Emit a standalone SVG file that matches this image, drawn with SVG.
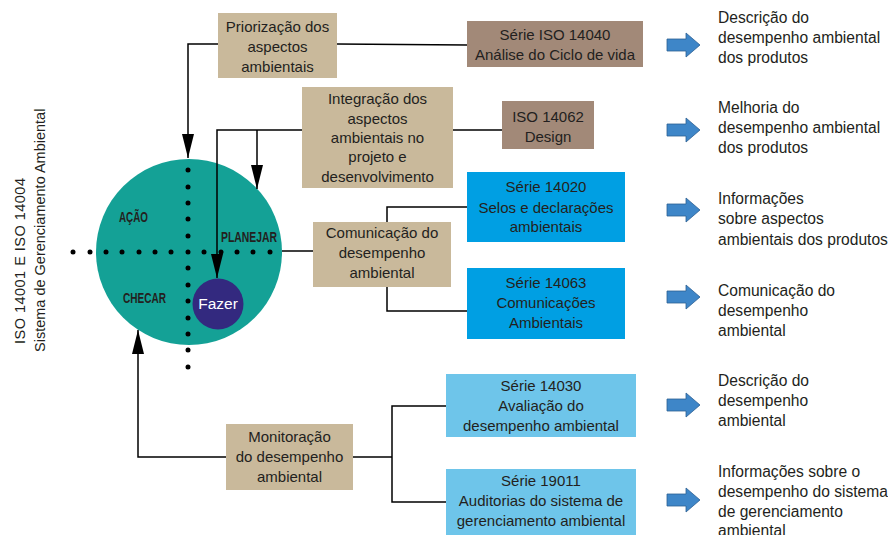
<svg xmlns="http://www.w3.org/2000/svg" width="888" height="535" viewBox="0 0 888 535">
<style>
text{font-family:"Liberation Sans",Arial,sans-serif;fill:#231F20}
.t{font-size:15px;text-anchor:middle}
.r{font-size:15.6px}
.v{font-size:14.5px}
.b{font-size:14px;font-weight:bold}
.tan{fill:#C9B99B}
.brn{fill:#A28978}
.blu{fill:#009FE3}
.lbl{fill:#6EC5EA}
.ln{fill:none;stroke:#000;stroke-width:1.5}
.dot{fill:#000}
.ba{fill:#3E86C8;stroke:#2C5F93;stroke-width:0.8}
</style>
<defs>
<marker id="ah" viewBox="0 0 24 12" refX="24" refY="6" markerWidth="24" markerHeight="12" markerUnits="userSpaceOnUse" orient="auto">
<path d="M0,0 L24,6 L0,12 z" fill="#000"/>
</marker>
<path id="barrow" d="M0,-6 H19 V-12 L33,0 L19,12 V6 H0 z"/>
</defs>
<rect width="888" height="535" fill="#fff"/>

<g id="side-title">
<text class="v" transform="translate(25,344) rotate(-90)" textLength="166" lengthAdjust="spacing">ISO 14001 E ISO 14004</text>
<text class="v" transform="translate(45,352) rotate(-90)">Sistema de Gerenciamento Ambiental</text>
</g>

<g id="pdca">
<circle cx="189" cy="252" r="93" fill="#14A196"/>
<g class="dot">
<circle cx="73" cy="252" r="2.5"/><circle cx="90" cy="252" r="2.5"/><circle cx="106" cy="252" r="2.5"/><circle cx="122" cy="252" r="2.5"/><circle cx="139" cy="252" r="2.5"/><circle cx="155" cy="252" r="2.5"/><circle cx="171" cy="252" r="2.5"/><circle cx="204" cy="252" r="2.5"/><circle cx="221" cy="252" r="2.5"/><circle cx="237" cy="252" r="2.5"/><circle cx="253" cy="252" r="2.5"/><circle cx="270" cy="252" r="2.5"/>
<circle cx="188" cy="170" r="2.5"/><circle cx="188" cy="187" r="2.5"/><circle cx="188" cy="203" r="2.5"/><circle cx="188" cy="219" r="2.5"/><circle cx="188" cy="236" r="2.5"/><circle cx="188" cy="252" r="2.5"/><circle cx="188" cy="268" r="2.5"/><circle cx="188" cy="285" r="2.5"/><circle cx="188" cy="301" r="2.5"/><circle cx="188" cy="318" r="2.5"/><circle cx="188" cy="334" r="2.5"/><circle cx="188" cy="350" r="2.5"/><circle cx="188" cy="367" r="2.5"/>
</g>
<text class="b" x="119" y="222" textLength="29" lengthAdjust="spacingAndGlyphs">AÇÃO</text>
<text class="b" x="221" y="242" textLength="56" lengthAdjust="spacingAndGlyphs">PLANEJAR</text>
<text class="b" x="123" y="303" textLength="43" lengthAdjust="spacingAndGlyphs">CHECAR</text>
</g>

<g id="fazer">
<circle cx="218" cy="304" r="25.5" fill="#33297F"/>
<text class="t" x="218" y="309" style="fill:#fff;font-size:15.5px">Fazer</text>
</g>

<g id="connectors">
<path class="ln" d="M219,44 H188 V158" marker-end="url(#ah)"/>
<path class="ln" d="M337,44 L467,45"/>
<path class="ln" d="M303,130 H217 V278" marker-end="url(#ah)"/>
<path class="ln" d="M257,130 V189" marker-end="url(#ah)"/>
<path class="ln" d="M453,130 H502"/>
<path class="ln" d="M282,251 H313"/>
<path class="ln" d="M387,222 V207 H467"/>
<path class="ln" d="M387,287 V311 H467"/>
<path class="ln" d="M226,457 H138 V330" marker-end="url(#ah)"/>
<path class="ln" d="M353,457 H392"/>
<path class="ln" d="M446,406 H392 V502 H446"/>
</g>

<g id="priorizacao">
<rect class="tan" x="218" y="13" width="119" height="65"/>
<text class="t" x="277.5" y="32">Priorização dos</text>
<text class="t" x="277.5" y="52">aspectos</text>
<text class="t" x="277.5" y="72">ambientais</text>
</g>

<g id="serie-14040">
<rect class="brn" x="467" y="21" width="176" height="46"/>
<text class="t" x="555" y="40">Série ISO 14040</text>
<text class="t" x="555" y="60">Análise do Ciclo de vida</text>
</g>

<g id="integracao">
<rect class="tan" x="302" y="87" width="151" height="101"/>
<text class="t" x="377.5" y="104">Integração dos</text>
<text class="t" x="377.5" y="124">aspectos</text>
<text class="t" x="377.5" y="143">ambientais no</text>
<text class="t" x="377.5" y="162">projeto e</text>
<text class="t" x="377.5" y="182">desenvolvimento</text>
</g>

<g id="iso-14062">
<rect class="brn" x="502" y="101" width="92" height="48"/>
<text class="t" x="548" y="122">ISO 14062</text>
<text class="t" x="548" y="142">Design</text>
</g>

<g id="serie-14020">
<rect class="blu" x="467" y="172" width="158" height="70"/>
<text class="t" x="546" y="192">Série 14020</text>
<text class="t" x="546" y="213">Selos e declarações</text>
<text class="t" x="546" y="232">ambientais</text>
</g>

<g id="comunicacao">
<rect class="tan" x="313" y="222" width="138" height="65"/>
<text class="t" x="382" y="238">Comunicação do</text>
<text class="t" x="382" y="258">desempenho</text>
<text class="t" x="382" y="278">ambiental</text>
</g>

<g id="serie-14063">
<rect class="blu" x="467" y="268" width="158" height="71"/>
<text class="t" x="546" y="288">Série 14063</text>
<text class="t" x="546" y="308">Comunicações</text>
<text class="t" x="546" y="328">Ambientais</text>
</g>

<g id="monitoracao">
<rect class="tan" x="226" y="424" width="127" height="66"/>
<text class="t" x="289.5" y="442">Monitoração</text>
<text class="t" x="289.5" y="462">do desempenho</text>
<text class="t" x="289.5" y="482">ambiental</text>
</g>

<g id="serie-14030">
<rect class="lbl" x="446" y="374" width="190" height="63"/>
<text class="t" x="541" y="391">Série 14030</text>
<text class="t" x="541" y="411">Avaliação do</text>
<text class="t" x="541" y="431">desempenho ambiental</text>
</g>

<g id="serie-19011">
<rect class="lbl" x="446" y="469" width="190" height="70"/>
<text class="t" x="541" y="486">Série 19011</text>
<text class="t" x="541" y="506">Auditorias do sistema de</text>
<text class="t" x="541" y="526">gerenciamento ambiental</text>
</g>

<g id="out-1">
<use href="#barrow" class="ba" x="667" y="45"/>
<text class="r" x="718" y="23">Descrição do</text>
<text class="r" x="718" y="43">desempenho ambiental</text>
<text class="r" x="718" y="63">dos produtos</text>
</g>
<g id="out-2">
<use href="#barrow" class="ba" x="667" y="130"/>
<text class="r" x="718" y="113">Melhoria do</text>
<text class="r" x="718" y="133">desempenho ambiental</text>
<text class="r" x="718" y="153">dos produtos</text>
</g>
<g id="out-3">
<use href="#barrow" class="ba" x="667" y="210"/>
<text class="r" x="718" y="204">Informações</text>
<text class="r" x="718" y="224">sobre aspectos</text>
<text class="r" x="718" y="245">ambientais dos produtos</text>
</g>
<g id="out-4">
<use href="#barrow" class="ba" x="667" y="297"/>
<text class="r" x="718" y="296">Comunicação do</text>
<text class="r" x="718" y="316">desempenho</text>
<text class="r" x="718" y="336">ambiental</text>
</g>
<g id="out-5">
<use href="#barrow" class="ba" x="667" y="405"/>
<text class="r" x="718" y="386">Descrição do</text>
<text class="r" x="718" y="406">desempenho</text>
<text class="r" x="718" y="426">ambiental</text>
</g>
<g id="out-6">
<use href="#barrow" class="ba" x="667" y="500"/>
<text class="r" x="718" y="477">Informações sobre o</text>
<text class="r" x="718" y="497">desempenho do sistema</text>
<text class="r" x="718" y="517">de gerenciamento</text>
<text class="r" x="718" y="536">ambiental</text>
</g>
</svg>
